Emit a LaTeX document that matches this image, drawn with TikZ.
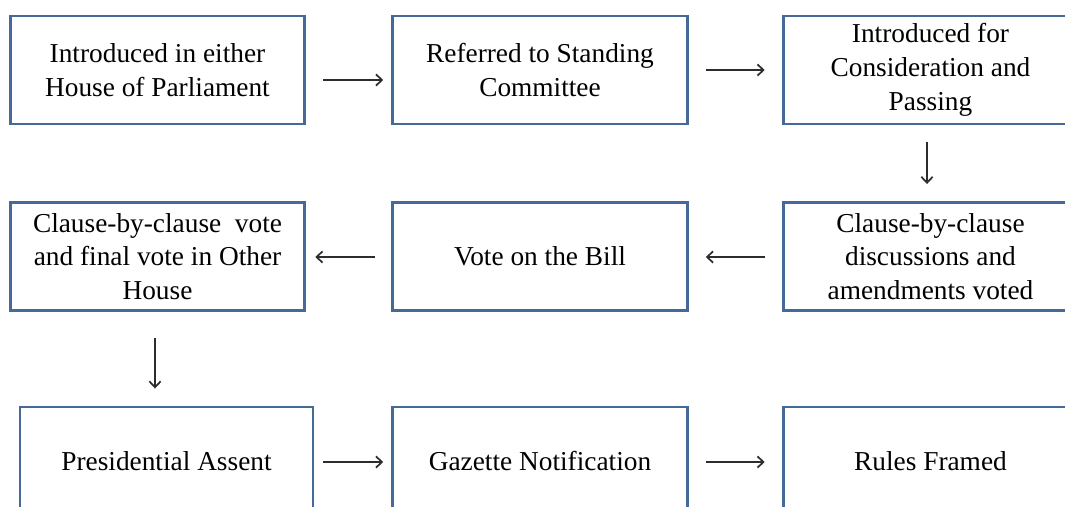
\documentclass[tikz,border=0pt]{standalone}
\usepackage{fontspec}
\setmainfont{Liberation Serif}
\usetikzlibrary{arrows.meta,calc}
\definecolor{boxblue}{RGB}{70,106,152}
\definecolor{arrowgray}{RGB}{45,45,45}
\tikzset{
	stage/.style={draw=boxblue, line width=2.2pt, minimum width=221pt, minimum height=81pt, inner sep=0pt, align=center, font=\fontsize{20.5}{25.3}\selectfont},
	flow/.style={-{Straight Barb[length=4.5pt, width=8.5pt, line width=1.3pt]}, draw=arrowgray, line width=1.1pt}
}

\begin{document}
\begin{tikzpicture}[x=0.75pt, y=-0.75pt]
		%%%%% START %%%%%
		
		\useasboundingbox (0, 0) rectangle (1065, 507);
		\clip (0, 0) rectangle (1065, 507);
		
		% first row
		\node[stage] (intro) at (157.5, 70) {Introduced in either\\House of Parliament};
		\node[stage] (committee) at (540, 70) {Referred to Standing\\Committee};
		\node[stage] (passing) at (930.5, 70) {Introduced for\\Consideration and\\Passing};
		
		% second row
		\node[stage] (clauses) at (930.5, 256.5) {Clause-by-clause\\discussions and\\amendments voted};
		\node[stage] (vote) at (540, 256.5) {Vote on the Bill};
		\node[stage] (other) at (157.5, 256.5) {Clause-by-clause\ \ vote\\and final vote in Other\\House};
		
		% third row
		\node[stage, minimum width=219.75pt] (assent) at (166.5, 461) {Presidential Assent};
		\node[stage] (gazette) at (540, 461) {Gazette Notification};
		\node[stage] (rules) at (930.5, 461) {Rules Framed};
		
		\draw[flow] ($(intro.east)+(17, 10)$) -- ($(committee.west)+(-8, 10)$);
		\draw[flow] ($(committee.east)+(17, 0)$) -- ($(passing.west)+(-17, 0)$);
		\draw[flow] ($(passing.south)+(-3.5, 17)$) -- ($(clauses.north)+(-3.5, -17)$);
		\draw[flow] ($(clauses.west)+(-17, 0.5)$) -- ($(vote.east)+(17, 0.5)$);
		\draw[flow] ($(vote.west)+(-16, 0.5)$) -- ($(other.east)+(9, 0.5)$);
		\draw[flow] ($(other.south)+(-2.5, 26)$) -- ($(assent.north)+(-11.5, -17)$);
		\draw[flow] ($(assent.east)+(9, 1)$) -- ($(gazette.west)+(-8, 1)$);
		\draw[flow] ($(gazette.east)+(17, 1)$) -- ($(rules.west)+(-17, 1)$);
		
		%%%%% END %%%%%
	\end{tikzpicture}
\end{document}
